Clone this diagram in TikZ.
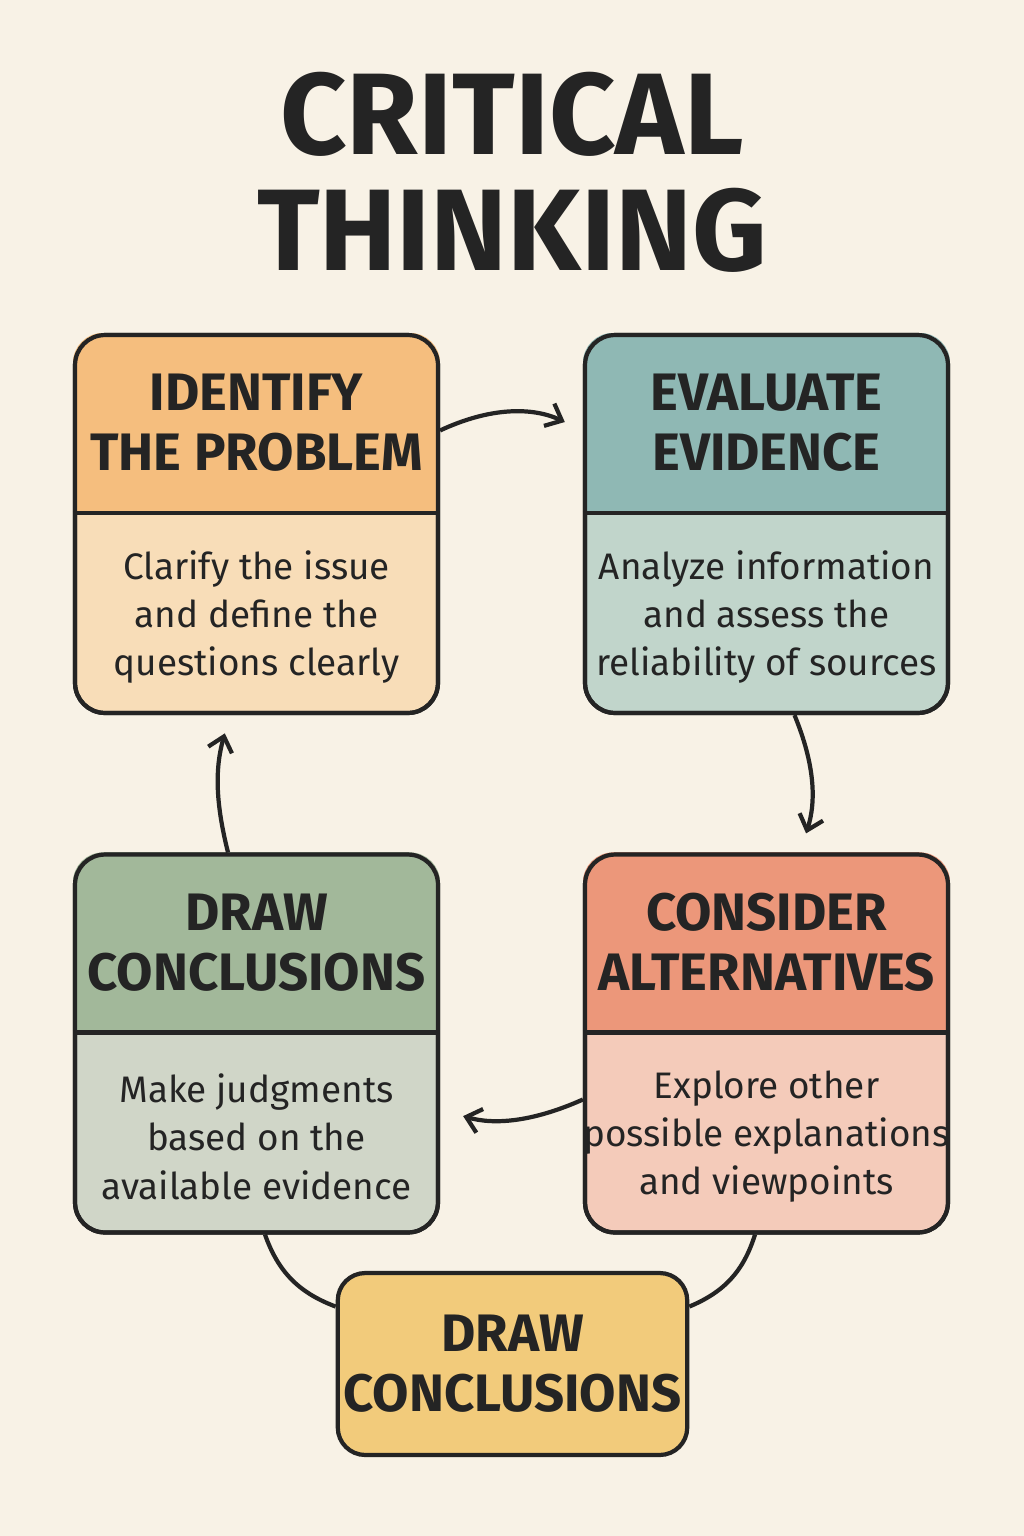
\documentclass[tikz,border=0pt]{standalone}
\usepackage{fontspec}
\setmainfont{Fira Sans}
\usetikzlibrary{positioning}
\usetikzlibrary{arrows.meta}
\definecolor{bgcol}{HTML}{F8F2E6}
\definecolor{ink}{HTML}{242424}
\definecolor{idfhead}{HTML}{F5BE7E}
\definecolor{idfbody}{HTML}{F8DDB8}
\definecolor{evahead}{HTML}{8FB8B4}
\definecolor{evabody}{HTML}{C1D5CB}
\definecolor{drwhead}{HTML}{A2B89A}
\definecolor{drwbody}{HTML}{D0D6C8}
\definecolor{conhead}{HTML}{EC977A}
\definecolor{conbody}{HTML}{F4CBBA}
\definecolor{botfill}{HTML}{F2CB7B}

\tikzset{
  stage/.style={draw=ink, line width=2.4pt, rounded corners=0.6cm, minimum width=7.26cm, minimum height=7.56cm},
  headtxt/.style={font=\fontsize{30}{34}\selectfont\bfseries, text=ink, align=center},
  bodytxt/.style={font=\fontsize{21}{27.5}\selectfont, text=ink, align=center},
  arr/.style={ink, line width=2.4pt, -{Straight Barb[length=8pt,width=14pt]}},
  link/.style={ink, line width=2.4pt}
}

% name, x, y, head colour, body colour, title, text
\newcommand{\stagebox}[7]{
  \node[stage, fill=#5] (#1) at (#2,#3) {};
  \begin{scope}
    \clip[rounded corners=0.6cm] (#1.south west) rectangle (#1.north east);
    \fill[#4] (#1.north west) rectangle ([yshift=-3.6cm]#1.north east);
  \end{scope}
  \draw[ink, line width=2.4pt] ([yshift=-3.6cm]#1.north west) -- ([yshift=-3.6cm]#1.north east);
  \node[stage] at (#1) {};
  \node[headtxt] at ([yshift=-1.8cm]#1.north) {#6};
  \node[bodytxt] at ([yshift=1.96cm]#1.south) {#7};
}

\begin{document}
\begin{tikzpicture}[x=0.02cm, y=-0.02cm]
  \fill[bgcol] (0,0) rectangle (1024,1536);
  \useasboundingbox (0,0) rectangle (1024,1536);

  \node[font=\fontsize{66}{70}\selectfont\bfseries, text=ink, align=center] (title) at (512,172) {CRITICAL\\[-4pt]THINKING};

  \stagebox{idf}{256.5}{524}{idfhead}{idfbody}{IDENTIFY\\THE PROBLEM}{Clarify the issue\\and define the\\questions clearly}
  \stagebox{eva}{766.5}{524}{evahead}{evabody}{EVALUATE\\EVIDENCE}{Analyze information\\and assess the\\reliability of sources}
  \stagebox{drw}{256.5}{1043.5}{drwhead}{drwbody}{DRAW\\CONCLUSIONS}{Make judgments\\based on the\\available evidence}
  \stagebox{con}{766.5}{1043.5}{conhead}{conbody}{CONSIDER\\ALTERNATIVES}{Explore other\\possible explanations\\and viewpoints}

  \node[draw=ink, line width=2.4pt, rounded corners=0.55cm, fill=botfill, minimum width=6.82cm, minimum height=3.64cm, headtxt] (bot) at (512.5,1364) {DRAW\\CONCLUSIONS};

  \draw[arr, shorten >=0.4cm] (idf.27) to[bend left=25] (eva.153);
  \draw[arr, shorten >=0.4cm] ([xshift=0.56cm]eva.south) to[bend left=20] ([xshift=0.67cm]con.north);
  \draw[arr, shorten >=0.48cm] ([yshift=-1.12cm]con.west) to[bend left=20] ([yshift=-1.32cm]drw.east);
  \draw[arr, shorten >=0.38cm] ([xshift=-0.57cm]drw.north) to[bend left=15] ([xshift=-0.53cm]idf.south);

  \draw[link] ([xshift=0.17cm]drw.south) to[bend right=25] (bot.162);
  \draw[link] ([xshift=-0.23cm]con.south) to[bend left=25] (bot.18);
\end{tikzpicture}
\end{document}
